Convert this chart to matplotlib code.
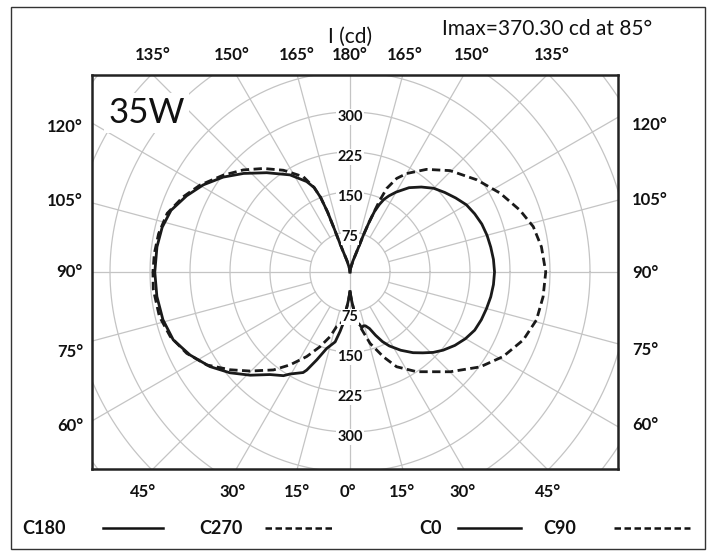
import numpy as np
import matplotlib.pyplot as plt
from matplotlib.lines import Line2D
from matplotlib.patches import Rectangle

plt.rcParams['font.family'] = ['Lato', 'DejaVu Sans']

# luminous intensity (cd) per gamma angle (deg, 0 = straight down)
c0_gamma = [0, 3, 5, 8, 10, 12, 14, 16, 19, 22, 25, 28, 33, 38, 42, 46, 50, 55, 60,
            65, 70, 75, 80, 85, 90, 95, 100, 105, 110, 115, 120, 125, 130, 135, 140,
            145, 150, 153, 155, 156.5, 158, 159, 160, 161, 165, 170, 175, 180]
c0_cd = [37, 52, 65, 97, 99, 107, 104, 105, 112, 128, 144, 157, 175, 192, 204, 217,
         228, 240, 250, 258, 262, 265, 268, 270, 271, 270, 268, 266, 263, 258, 252,
         242, 232, 222, 208, 193, 173, 160, 150, 138, 122, 100, 75, 48, 22, 8, 2, 0]

c180_gamma = [0, 3, 5, 7.5, 9.5, 12, 17, 20.7, 23.8, 25, 30.5, 32.7, 38, 44, 50, 56,
              62.6, 69, 75.7, 82.8, 90, 97.4, 103.4, 109, 115, 120.7, 126.8, 132.8,
              140, 148.3, 154.4, 157, 158.5, 159.5, 160, 160.5, 161, 165, 170, 175, 180]
c180_cd = [37, 52, 65, 97, 113, 134, 150, 176, 201, 208, 222, 231, 244, 269, 294, 317,
           338, 355, 362, 365, 366, 365, 362, 355, 338, 320, 297, 272, 243, 214, 188,
           172, 150, 120, 85, 60, 47, 22, 8, 2, 0]

c90_gamma = [0, 3, 5, 7.7, 10.4, 15.7, 21.5, 26.2, 33.8, 45.1, 53.9, 61.1, 68.6, 75.6,
             82.7, 90, 97.5, 103.9, 110, 117.7, 126, 135.4, 143.3, 150.1, 153.5, 156.3,
             157.4, 158, 159, 160, 161, 165, 170, 175, 180]
c90_cd = [37, 52, 65, 94, 104, 139, 171, 198, 225, 265, 302, 328, 349, 361, 365, 367,
          362, 354, 339, 318, 294, 267, 240, 213, 196, 171, 146, 127, 100, 75, 48, 22,
          8, 2, 0]

c270_gamma = [0, 3, 5, 8, 10.5, 13.7, 17.2, 21.9, 27.1, 32.8, 38, 45.3, 50.8, 57, 63.5,
              70.2, 76.9, 85, 90, 95.4, 101.3, 107.8, 114.3, 120.1, 127.4, 133.7, 140.1,
              146.8, 153.9, 157, 158.5, 159.5, 160, 160.5, 161, 165, 170, 175, 180]
c270_cd = [37, 52, 65, 90, 100, 105, 127, 151, 178, 207, 233, 264, 290, 320, 342,
           358, 367, 370.3, 369.5, 368.5, 366, 360, 343, 325, 299, 277, 253, 228, 199,
           172, 150, 120, 85, 60, 47, 22, 8, 2, 0]

ring_values = [75, 150, 225, 300]
top_labels = ['135°', '150°', '165°', '180°', '165°', '150°', '135°']
top_x = [153, 232, 297, 350, 405, 472, 552]
bottom_labels = ['45°', '30°', '15°', '0°', '15°', '30°', '45°']
bottom_x = [143, 233, 297, 348, 402, 463, 548]
side_labels = ['120°', '105°', '90°', '75°', '60°']
left_y = [127, 201, 272, 352, 426]
right_y = [125, 200, 273, 350, 425]

W, H = 713, 556
fig = plt.figure(figsize=(W / 100, H / 100), dpi=100)


def fx(x):
    return x / W


def fy(y):
    return 1 - y / H


# plot box in pixels, centre of the diagram at (350, 272)
k = 75 / 40.0  # cd per pixel
ax = fig.add_axes([fx(92), fy(469), (618 - 92) / W, (469 - 75) / H])
ax.set_xlim((92 - 350) * k, (618 - 350) * k)
ax.set_ylim(-(469 - 272) * k, (272 - 75) * k)
ax.set_xticks([])
ax.set_yticks([])
for s in ax.spines.values():
    s.set_linewidth(1.8)
    s.set_color('#222222')
    s.set_zorder(6)

# polar grid
grid_c = '#c4c4c4'
t = np.linspace(0, 2 * np.pi, 500)
for r in range(75, 751, 75):
    ax.plot(r * np.cos(t), r * np.sin(t), color=grid_c, lw=0.9, zorder=1)
for a in range(0, 360, 15):
    r0 = 0 if a % 90 == 0 else 75
    ang = np.radians(a)
    ax.plot([r0 * np.cos(ang), 900 * np.cos(ang)], [r0 * np.sin(ang), 900 * np.sin(ang)],
            color=grid_c, lw=0.9, zorder=1)


def to_xy(gamma, cd, side):
    g = np.radians(gamma)
    cd = np.asarray(cd, dtype=float)
    return side * cd * np.sin(g), -cd * np.cos(g)


dash = (3, 1.6)
for gam, cd, side, ls in [(c180_gamma, c180_cd, -1, '-'), (c0_gamma, c0_cd, 1, '-'),
                          (c270_gamma, c270_cd, -1, '--'), (c90_gamma, c90_cd, 1, '--')]:
    x, y = to_xy(gam, cd, side)
    line, = ax.plot(x, y, color='#1a1a1a', lw=2.0, zorder=3, solid_joinstyle='round')
    if ls == '--':
        line.set_dashes(dash)

# ring values along the vertical axis
for r in ring_values:
    for yy in (r - 9.4, -r - 9.4):
        ax.text(0, yy, str(r), ha='center', va='center', fontsize=10.5, weight='bold',
                color='#111111', zorder=4,
                bbox=dict(fc='white', ec='none', pad=0.6))

fig.text(fx(108), fy(113), '35W', fontsize=25, ha='left', va='center', zorder=5,
         color='#111111', bbox=dict(fc='white', ec='none', pad=3))

lab = dict(fontsize=12, weight='bold', color='#111111', va='center')
for s, x in zip(top_labels, top_x):
    fig.text(fx(x), fy(55), s, ha='center', **lab)
for s, x in zip(bottom_labels, bottom_x):
    fig.text(fx(x), fy(492), s, ha='center', **lab)
for s, y in zip(side_labels, left_y):
    fig.text(fx(83), fy(y), s, ha='right', **lab)
for s, y in zip(side_labels, right_y):
    fig.text(fx(632), fy(y), s, ha='left', **lab)

fig.text(fx(350), fy(37), 'I (cd)', ha='center', va='center', fontsize=15,
         color='#111111')
fig.text(fx(442), fy(29), 'Imax=370.30 cd at 85°', ha='left', va='center',
         fontsize=15, color='#111111')

# legend row
leg_names = ['C180', 'C270', 'C0', 'C90']
leg_text_x = [22, 199, 419, 543]
leg_line_x = [(103, 163), (265, 335), (458, 521), (614, 690)]
leg_dashed = [False, True, False, True]
for name, tx, (x0, x1), dsh in zip(leg_names, leg_text_x, leg_line_x, leg_dashed):
    fig.text(fx(tx), fy(528), name, ha='left', va='center', fontsize=13,
             weight='bold', color='#111111')
    ln = Line2D([fx(x0), fx(x1)], [fy(528), fy(528)], transform=fig.transFigure,
                color='#111111', lw=1.8)
    if dsh:
        ln.set_dashes((2.6, 1.4))
    fig.add_artist(ln)

fig.add_artist(Rectangle((fx(11), fy(549)), (705 - 11) / W, (549 - 7) / H,
                         transform=fig.transFigure, fill=False, ec='#333333', lw=1.0))

fig.savefig('out.png', dpi=100)
